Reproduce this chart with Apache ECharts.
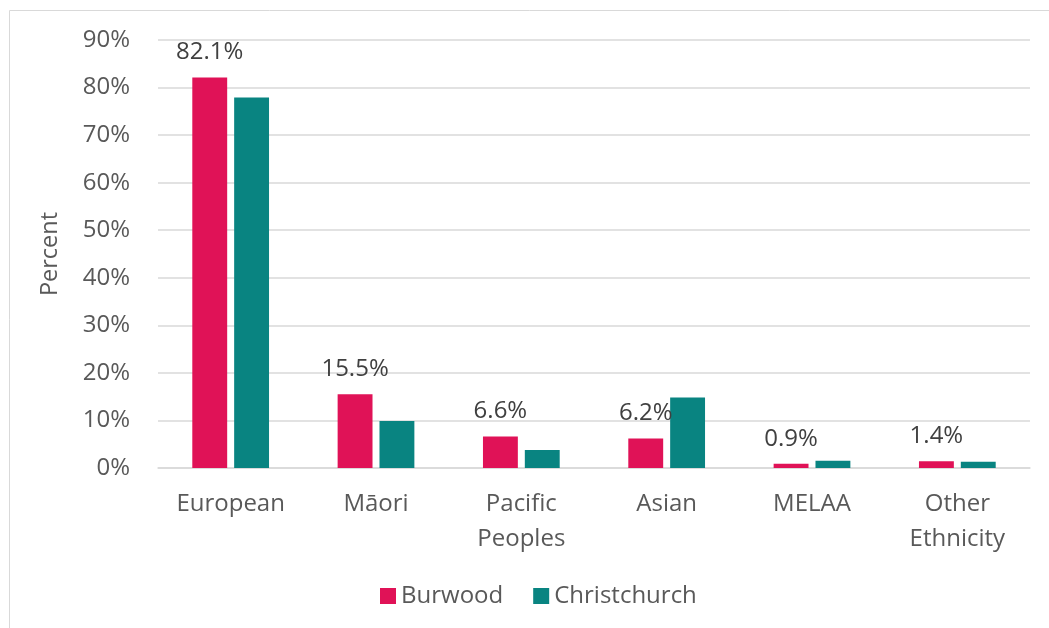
<!DOCTYPE html>
<html><head><meta charset="utf-8">
<script src="https://cdn.jsdelivr.net/npm/echarts@6/dist/echarts.min.js"></script>
<style>html,body{margin:0;padding:0;background:#fff}#c{width:1049px;height:628px}</style>
</head><body><div id="c"></div>
<script>
const categories = ['European', 'Māori', 'Pacific\nPeoples', 'Asian', 'MELAA', 'Other\nEthnicity'];
const burwood = [82.1, 15.5, 6.6, 6.2, 0.9, 1.4];
const christchurch = [77.9, 9.9, 3.8, 14.8, 1.5, 1.3];
const seriesNames = ['Burwood', 'Christchurch'];
const FONT = '"Open Sans", Lato, sans-serif';
const chart = echarts.init(document.getElementById('c'));
chart.setOption({
  animation: false,
  textStyle: { fontFamily: FONT },
  graphic: [{ type: 'rect', shape: { x: 9.5, y: 10.5, width: 1060, height: 640 }, style: { fill: 'none', stroke: '#d9d9d9', lineWidth: 1 } }],
  grid: { left: 158, right: 19, top: 40, bottom: 160 },
  legend: {
    data: seriesNames, bottom: 15, left: 375, itemWidth: 16, itemHeight: 16, itemGap: 30, itemStyle: { borderWidth: 0 },
    textStyle: { fontSize: 24, color: '#595959', fontFamily: FONT }, icon: 'rect'
  },
  xAxis: {
    type: 'category', data: categories,
    axisLine: { lineStyle: { color: '#d9d9d9', width: 1.5 } }, axisTick: { show: false },
    axisLabel: { fontSize: 24, color: '#595959', margin: 19, lineHeight: 35, interval: 0, fontFamily: FONT }
  },
  yAxis: {
    type: 'value', min: 0, max: 90, interval: 10,
    name: 'Percent', nameLocation: 'middle', nameGap: 96, nameRotate: 90,
    nameTextStyle: { fontSize: 23.5, color: '#595959', fontFamily: FONT },
    axisLabel: { formatter: '{value}%', fontSize: 24, color: '#595959', margin: 28, fontFamily: FONT },
    splitLine: { lineStyle: { color: '#d9d9d9', width: 1.5 } }, axisLine: { show: false }
  },
  series: [
    { name: seriesNames[0], type: 'bar', data: burwood, itemStyle: { color: '#E01257' }, barWidth: '24%', barGap: '20%',
      label: { show: true, position: 'top', distance: 13, formatter: p => p.value.toFixed(1) + '%', fontSize: 24, color: '#404040', fontFamily: FONT } },
    { name: seriesNames[1], type: 'bar', data: christchurch, itemStyle: { color: '#098481' }, barWidth: '24%' }
  ]
});
</script></body></html>
